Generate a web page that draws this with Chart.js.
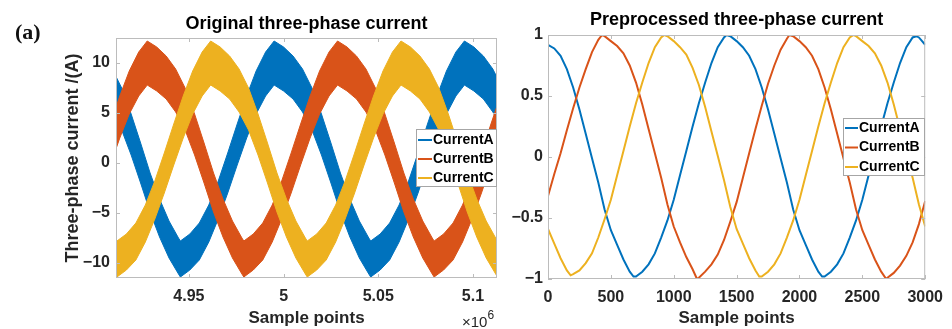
<!DOCTYPE html>
<html>
<head>
<meta charset="utf-8">
<script src="https://cdn.jsdelivr.net/npm/chart.js@4.4.1/dist/chart.umd.min.js"></script>
<style>
  body { margin: 0; background: #fff; }
  #figure { position: relative; width: 952px; height: 329px; overflow: hidden; background: #fff; }
  #figure canvas { position: absolute; left: 0; top: 0; }
  .panel-tag { position: absolute; left: 15px; top: 21px; font: bold 22px/22px "Liberation Serif", "DejaVu Serif", serif; color: #111; }
  .multiplier { position: absolute; left: 462px; top: 314px; font: 15px/15px "Liberation Sans", Arial, sans-serif; color: #262626; white-space: nowrap; }
  .multiplier span { position: relative; top: -8px; font-size: 12px; }
</style>
</head>
<body>
<div id="figure">
  <canvas id="rawChart" width="952" height="329"></canvas>
  <canvas id="prepChart" width="952" height="329"></canvas>
  <div class="panel-tag">(a)</div>
  <div class="multiplier">×10<span>6</span></div>
</div>
<script>
// Left panel: original current, sample axis in units of 10^6.
// The noisy signal is kept as an upper and a lower envelope per phase.
const rawSampleA = [4.9095,4.9145,4.9195,4.9245,4.9295,4.9345,4.9395,4.9445,4.9455,4.9505,4.9555,4.9605,4.9655,4.9705,4.9755,4.9805,4.9855,4.9905,4.9950,5.0000,5.0050,5.0100,5.0150,5.0200,5.0250,5.0300,5.0350,5.0400,5.0450,5.0460,5.0510,5.0560,5.0610,5.0660,5.0710,5.0760,5.0810,5.0860,5.0910,5.0955,5.1005,5.1055,5.1105,5.1155];
const rawUpperA = [9.4,7.5,4.9,2.0,-1.0,-3.6,-5.8,-7.5,-7.8,-7.1,-6.0,-4.2,-1.8,1.0,3.9,6.7,9.2,11.1,12.2,11.6,10.7,9.4,7.5,4.9,2.0,-1.0,-3.6,-5.8,-7.5,-7.8,-7.1,-6.0,-4.2,-1.8,1.0,3.9,6.7,9.2,11.1,12.2,11.6,10.7,9.4,7.5];
const rawLowerA = [5.1,3.3,0.8,-2.0,-4.9,-7.4,-9.5,-11.1,-11.4,-10.7,-9.7,-7.9,-5.6,-3.0,-0.2,2.5,4.9,6.7,7.8,7.2,6.4,5.1,3.3,0.8,-2.0,-4.9,-7.4,-9.5,-11.1,-11.4,-10.7,-9.7,-7.9,-5.6,-3.0,-0.2,2.5,4.9,6.7,7.8,7.2,6.4,5.1,3.3];

const rawSampleB = [4.9085,4.9135,4.9185,4.9235,4.9280,4.9330,4.9380,4.9430,4.9480,4.9530,4.9580,4.9630,4.9680,4.9730,4.9780,4.9790,4.9840,4.9890,4.9940,4.9990,5.0040,5.0090,5.0140,5.0190,5.0240,5.0285,5.0335,5.0385,5.0435,5.0485,5.0535,5.0585,5.0635,5.0685,5.0735,5.0785,5.0795,5.0845,5.0895,5.0945,5.0995,5.1045,5.1095,5.1145];
const rawUpperB = [3.9,6.7,9.2,11.1,12.2,11.6,10.7,9.4,7.5,4.9,2.0,-1.0,-3.6,-5.8,-7.5,-7.8,-7.1,-6.0,-4.2,-1.8,1.0,3.9,6.7,9.2,11.1,12.2,11.6,10.7,9.4,7.5,4.9,2.0,-1.0,-3.6,-5.8,-7.5,-7.8,-7.1,-6.0,-4.2,-1.8,1.0,3.9,6.7];
const rawLowerB = [-0.2,2.5,4.9,6.7,7.8,7.2,6.4,5.1,3.3,0.8,-2.0,-4.9,-7.4,-9.5,-11.1,-11.4,-10.7,-9.7,-7.9,-5.6,-3.0,-0.2,2.5,4.9,6.7,7.8,7.2,6.4,5.1,3.3,0.8,-2.0,-4.9,-7.4,-9.5,-11.1,-11.4,-10.7,-9.7,-7.9,-5.6,-3.0,-0.2,2.5];

const rawSampleC = [4.9060,4.9110,4.9120,4.9170,4.9220,4.9270,4.9320,4.9370,4.9420,4.9470,4.9520,4.9570,4.9615,4.9665,4.9715,4.9765,4.9815,4.9865,4.9915,4.9965,5.0015,5.0065,5.0115,5.0125,5.0175,5.0225,5.0275,5.0325,5.0375,5.0425,5.0475,5.0525,5.0575,5.0620,5.0670,5.0720,5.0770,5.0820,5.0870,5.0920,5.0970,5.1020,5.1070,5.1120,5.1130,5.1180];
const rawUpperC = [-5.8,-7.5,-7.8,-7.1,-6.0,-4.2,-1.8,1.0,3.9,6.7,9.2,11.1,12.2,11.6,10.7,9.4,7.5,4.9,2.0,-1.0,-3.6,-5.8,-7.5,-7.8,-7.1,-6.0,-4.2,-1.8,1.0,3.9,6.7,9.2,11.1,12.2,11.6,10.7,9.4,7.5,4.9,2.0,-1.0,-3.6,-5.8,-7.5,-7.8,-7.1];
const rawLowerC = [-9.5,-11.1,-11.4,-10.7,-9.7,-7.9,-5.6,-3.0,-0.2,2.5,4.9,6.7,7.8,7.2,6.4,5.1,3.3,0.8,-2.0,-4.9,-7.4,-9.5,-11.1,-11.4,-10.7,-9.7,-7.9,-5.6,-3.0,-0.2,2.5,4.9,6.7,7.8,7.2,6.4,5.1,3.3,0.8,-2.0,-4.9,-7.4,-9.5,-11.1,-11.4,-10.7];

const rawTicksX = [4.95, 5, 5.05, 5.1];
const rawTickLabelsX = ['4.95', '5', '5.05', '5.1'];
const rawTicksY = [-10, -5, 0, 5, 10];
const rawTickLabelsY = ['\u221210', '\u22125', '0', '5', '10'];

// Right panel: preprocessed (normalised) current
const prepSampleA = [0,50,100,150,200,250,300,350,400,450,500,550,600,650,680,700,750,800,850,900,950,1000,1050,1100,1150,1200,1250,1300,1350,1400,1420,1450,1500,1550,1600,1650,1700,1750,1800,1850,1900,1950,2000,2050,2100,2150,2180,2200,2250,2300,2350,2400,2450,2500,2550,2600,2650,2700,2750,2800,2850,2900,2930,2950,3000];
const prepCurrentA = [0.92,0.89,0.83,0.72,0.57,0.39,0.19,-0.01,-0.21,-0.43,-0.60,-0.72,-0.84,-0.94,-0.98,-0.98,-0.94,-0.88,-0.79,-0.66,-0.52,-0.35,-0.15,0.05,0.25,0.44,0.61,0.77,0.90,0.98,1.0,0.99,0.95,0.90,0.83,0.72,0.57,0.39,0.19,-0.01,-0.21,-0.43,-0.60,-0.72,-0.84,-0.94,-0.98,-0.98,-0.94,-0.88,-0.79,-0.66,-0.52,-0.35,-0.15,0.05,0.25,0.44,0.61,0.77,0.90,0.98,0.99,0.98,0.92];

const prepSampleB = [0,50,100,150,200,250,300,350,400,430,450,500,550,600,650,700,750,800,850,900,950,1000,1050,1100,1150,1185,1200,1250,1300,1350,1400,1450,1500,1550,1600,1650,1700,1750,1800,1850,1900,1920,1950,2000,2050,2100,2150,2200,2250,2300,2350,2400,2450,2500,2550,2600,2650,2690,2700,2750,2800,2850,2900,2950,3000];
const prepCurrentB = [-0.32,-0.14,0.03,0.22,0.40,0.57,0.72,0.86,0.96,1.0,0.99,0.95,0.91,0.85,0.75,0.61,0.43,0.23,0.03,-0.17,-0.39,-0.57,-0.70,-0.82,-0.92,-1.0,-0.99,-0.94,-0.88,-0.80,-0.68,-0.53,-0.37,-0.17,0.03,0.23,0.42,0.60,0.75,0.88,0.97,1.0,0.99,0.95,0.90,0.83,0.72,0.57,0.39,0.19,-0.01,-0.21,-0.43,-0.60,-0.72,-0.84,-0.94,-1.0,-0.99,-0.95,-0.89,-0.81,-0.70,-0.55,-0.36];

const prepSampleC = [0,50,100,150,180,200,250,300,350,400,450,500,550,600,650,700,750,800,850,900,925,950,1000,1050,1100,1150,1200,1250,1300,1350,1400,1450,1500,1550,1600,1650,1680,1700,1750,1800,1850,1900,1950,2000,2050,2100,2150,2200,2250,2300,2350,2400,2430,2450,2500,2550,2600,2650,2700,2750,2800,2850,2900,2950,3000];
const prepCurrentC = [-0.59,-0.71,-0.83,-0.93,-0.97,-0.96,-0.93,-0.87,-0.79,-0.66,-0.51,-0.35,-0.15,0.05,0.25,0.44,0.61,0.77,0.90,0.98,1.0,0.99,0.95,0.90,0.84,0.73,0.59,0.41,0.21,0.01,-0.19,-0.41,-0.59,-0.71,-0.83,-0.93,-0.98,-0.98,-0.94,-0.88,-0.79,-0.66,-0.52,-0.35,-0.15,0.05,0.25,0.44,0.61,0.77,0.90,0.98,1.0,0.99,0.95,0.91,0.85,0.75,0.61,0.43,0.23,0.03,-0.17,-0.39,-0.57];

const prepTicksX = [0, 500, 1000, 1500, 2000, 2500, 3000];
const prepTickLabelsX = ['0', '500', '1000', '1500', '2000', '2500', '3000'];
const prepTicksY = [-1, -0.5, 0, 0.5, 1];
const prepTickLabelsY = ['\u22121', '\u22120.5', '0', '0.5', '1'];

const phaseNames = ['CurrentA', 'CurrentB', 'CurrentC'];
const phaseColors = ['#0072BD', '#D95319', '#EDB120'];

const FONT = '"Liberation Sans", Arial, Helvetica, sans-serif';
const INK = '#262626';
Chart.defaults.font.family = FONT;

function points(xs, ys) {
    return xs.map((x, i) => ({ x: x, y: ys[i] }));
}

// Linear axis with fixed ticks and a fixed thickness
function axis(o) {
    return {
        type: 'linear',
        min: o.min,
        max: o.max,
        bounds: 'data',
        grid: { display: false, drawTicks: false },
        border: { display: false },
        afterBuildTicks: s => { s.ticks = o.ticks.map(v => ({ value: v })); },
        afterFit: s => {
            if (o.width) s.width = o.width;
            if (o.height) s.height = o.height;
        },
        ticks: {
            autoSkip: false,
            maxRotation: 0,
            padding: o.pad,
            color: INK,
            font: { size: 16, weight: 'bold' },
            callback: (v, i) => o.labels[i]
        },
        title: o.title ? {
            display: true,
            text: o.title,
            color: INK,
            font: { size: o.titleSize, weight: 'bold' },
            padding: o.titlePad
        } : { display: false }
    };
}

// MATLAB-like box, inward ticks and boxed legend
const matlabFrame = {
    id: 'matlabFrame',
    afterDatasetsDraw(chart) {
        const { ctx, chartArea: a, scales } = chart;
        ctx.save();
        ctx.strokeStyle = '#bcbcbc';
        ctx.lineWidth = 1;
        ctx.strokeRect(a.left + 0.5, a.top + 0.5, a.width - 1, a.height - 1);
        ctx.beginPath();
        scales.x.ticks.forEach(t => {
            const px = Math.round(scales.x.getPixelForValue(t.value)) + 0.5;
            ctx.moveTo(px, a.bottom); ctx.lineTo(px, a.bottom - 4);
            ctx.moveTo(px, a.top); ctx.lineTo(px, a.top + 4);
        });
        scales.y.ticks.forEach(t => {
            const py = Math.round(scales.y.getPixelForValue(t.value)) + 0.5;
            ctx.moveTo(a.left, py); ctx.lineTo(a.left + 4, py);
            ctx.moveTo(a.right, py); ctx.lineTo(a.right - 4, py);
        });
        ctx.stroke();
        ctx.restore();
    },
    afterDraw(chart, args, opts) {
        const lg = opts.legend;
        if (!lg) return;
        const ctx = chart.ctx;
        const items = chart.data.datasets.filter(d => d.label);
        ctx.save();
        ctx.fillStyle = '#fff';
        ctx.fillRect(lg.left, lg.top, lg.width, lg.height);
        ctx.strokeStyle = '#a6a6a6';
        ctx.lineWidth = 1;
        ctx.strokeRect(lg.left + 0.5, lg.top + 0.5, lg.width - 1, lg.height - 1);
        ctx.font = 'bold 14px ' + FONT;
        ctx.textBaseline = 'middle';
        items.forEach((d, i) => {
            const y = lg.top + lg.firstRow + i * lg.rowGap;
            ctx.strokeStyle = d.borderColor;
            ctx.lineWidth = 2;
            ctx.beginPath();
            ctx.moveTo(lg.left + lg.lineStart, y);
            ctx.lineTo(lg.left + lg.lineEnd, y);
            ctx.stroke();
            ctx.fillStyle = '#000';
            ctx.fillText(d.label, lg.left + lg.textX, y);
        });
        ctx.restore();
    }
};

// Build the band datasets: yellow on top, then orange, then blue
function bandSets(xs, upper, lower, k) {
    const color = phaseColors[k];
    return [
        { label: phaseNames[k], data: points(xs, upper), borderColor: color, backgroundColor: color,
          borderWidth: 1, pointRadius: 0, fill: '+1', order: 3 - k, clip: 0 },
        { label: '', data: points(xs, lower), borderColor: color, backgroundColor: color,
          borderWidth: 1, pointRadius: 0, fill: false, order: 3 - k, clip: 0 }
    ];
}

new Chart(document.getElementById('rawChart'), {
    type: 'line',
    data: {
        datasets: [
            ...bandSets(rawSampleA, rawUpperA, rawLowerA, 0),
            ...bandSets(rawSampleB, rawUpperB, rawLowerB, 1),
            ...bandSets(rawSampleC, rawUpperC, rawLowerC, 2)
        ]
    },
    options: {
        responsive: false,
        animation: false,
        events: [],
        layout: { padding: { left: 50, right: 455, top: 0, bottom: 0 } },
        scales: {
            x: axis({ min: 4.9115, max: 5.1127, ticks: rawTicksX, labels: rawTickLabelsX, pad: 9, height: 51,
                      title: 'Sample points', titleSize: 17, titlePad: { top: 0, bottom: 0 } }),
            y: axis({ min: -11.5, max: 12.5, ticks: rawTicksY, labels: rawTickLabelsY, pad: 6, width: 66,
                      title: 'Three-phase current /(A)', titleSize: 18, titlePad: { top: 12, bottom: 0 } })
        },
        plugins: {
            legend: { display: false },
            tooltip: { enabled: false },
            title: { display: true, text: 'Original three-phase current', fullSize: false, color: '#000',
                     font: { size: 18, weight: 'bold' }, padding: { top: 13.2, bottom: 3.2 } },
            matlabFrame: { legend: { left: 416, top: 129, width: 81, height: 58, firstRow: 11, rowGap: 19,
                                     lineStart: 2, lineEnd: 16, textX: 17 } }
        }
    },
    plugins: [matlabFrame]
});

function lineSet(xs, ys, k) {
    return { label: phaseNames[k], data: points(xs, ys), borderColor: phaseColors[k],
             borderWidth: 2, pointRadius: 0, fill: false, tension: 0, order: 3 - k };
}

new Chart(document.getElementById('prepChart'), {
    type: 'line',
    data: {
        datasets: [
            lineSet(prepSampleA, prepCurrentA, 0),
            lineSet(prepSampleB, prepCurrentB, 1),
            lineSet(prepSampleC, prepCurrentC, 2)
        ]
    },
    options: {
        responsive: false,
        animation: false,
        events: [],
        layout: { padding: { left: 500, right: 24, top: 0, bottom: 0 } },
        scales: {
            x: axis({ min: 0, max: 3000, ticks: prepTicksX, labels: prepTickLabelsX, pad: 9, height: 50,
                      title: 'Sample points', titleSize: 17, titlePad: { top: 0, bottom: 0 } }),
            y: axis({ min: -1, max: 1, ticks: prepTicksY, labels: prepTickLabelsY, pad: 5, width: 48 })
        },
        plugins: {
            legend: { display: false },
            tooltip: { enabled: false },
            title: { display: true, text: 'Preprocessed three-phase current', fullSize: false, color: '#000',
                     font: { size: 18, weight: 'bold' }, padding: { top: 9.2, bottom: 4.2 } },
            matlabFrame: { legend: { left: 843, top: 118, width: 82, height: 58, firstRow: 10, rowGap: 19.5,
                                     lineStart: 2, lineEnd: 15, textX: 16 } }
        }
    },
    plugins: [matlabFrame]
});
</script>
</body>
</html>
